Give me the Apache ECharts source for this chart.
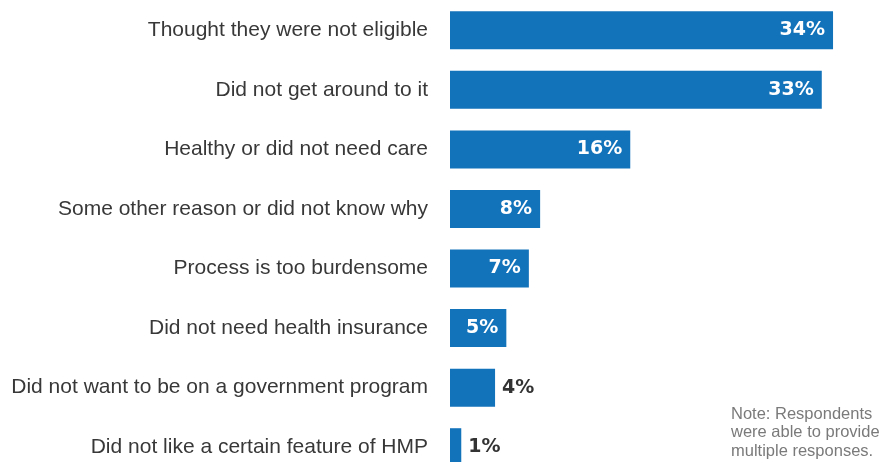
<!DOCTYPE html>
<html>
<head>
<meta charset="utf-8">
<script src="https://cdn.jsdelivr.net/npm/echarts@6/dist/echarts.min.js"></script>
<style>html,body{margin:0;padding:0;background:#fff;overflow:hidden;}#c{width:881px;height:477px;}</style>
</head>
<body>
<div id="c"></div>
<script>
const categories = [
  "Thought they were not eligible",
  "Did not get around to it",
  "Healthy or did not need care",
  "Some other reason or did not know why",
  "Process is too burdensome",
  "Did not need health insurance",
  "Did not want to be on a government program",
  "Did not like a certain feature of HMP"
];
const values = [34, 33, 16, 8, 7, 5, 4, 1];
const insideThreshold = 5; // values >= this get labels inside bars
const noteLines = ["Note: Respondents", "were able to provide", "multiple responses."];

const chart = echarts.init(document.getElementById('c'), null, {renderer: 'canvas'});
const data = values.map(v => ({
  value: v,
  label: v >= insideThreshold
    ? {position: 'insideRight', color: '#ffffff', distance: 8}
    : {position: 'right', color: '#333333', distance: 7}
}));
chart.setOption({
  animation: false,
  backgroundColor: '#ffffff',
  grid: {left: 450, top: 0.5, right: 2.9, bottom: 0, containLabel: false},
  xAxis: {type: 'value', min: 0, max: 38, show: false},
  yAxis: {
    type: 'category', data: categories, inverse: true,
    axisLine: {show: false}, axisTick: {show: false},
    axisLabel: {margin: 22, color: '#383838', fontSize: 21, fontFamily: 'Liberation Sans, Arial, sans-serif'}
  },
  series: [{
    type: 'bar', data: data, barWidth: 38,
    itemStyle: {color: '#1272ba'},
    label: {show: true, formatter: '{c}%', fontSize: 19, fontWeight: 'bold', fontFamily: 'DejaVu Sans, sans-serif'}
  }],
  graphic: [{
    type: 'text', left: 731, top: 405,
    style: {text: noteLines.join('\n'), fill: '#7a7a7a', fontSize: 16.5, lineHeight: 18.5, fontFamily: 'Liberation Sans, Arial, sans-serif'}
  }]
});
</script>
</body>
</html>
